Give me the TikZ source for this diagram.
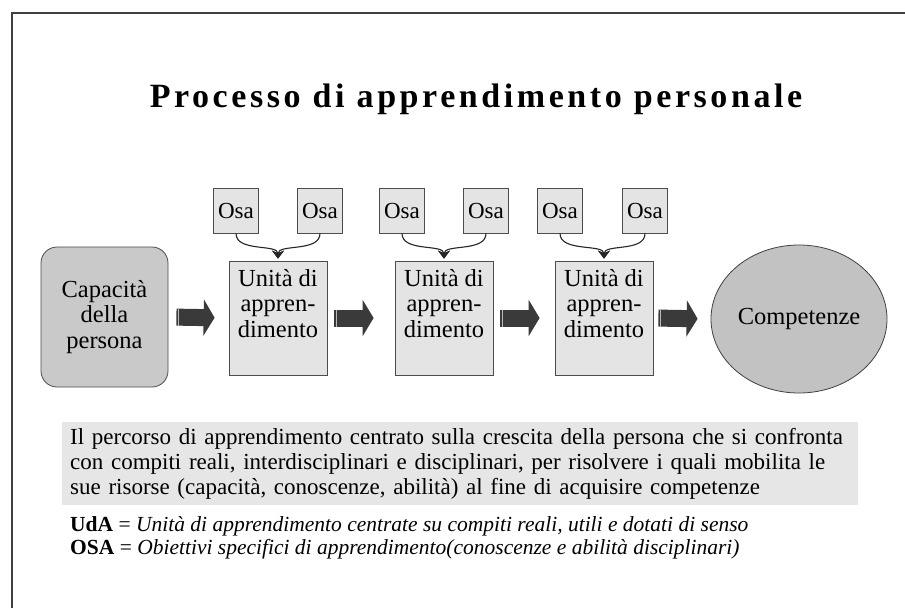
\documentclass[tikz,border=0pt]{standalone}
\usepackage{fontspec}
\setmainfont{Liberation Serif}
\usetikzlibrary{arrows.meta,calc,shapes.geometric}
\definecolor{boxgray}{HTML}{E4E4E4}
\definecolor{capgray}{HTML}{C9C9C9}
\definecolor{compgray}{HTML}{C2C2C2}
\definecolor{descgray}{HTML}{E6E6E6}
\definecolor{arrgray}{HTML}{3A3A3A}
\tikzset{
  osabox/.style={draw=black!70, fill=boxgray, line width=0.8pt, minimum width=45pt, minimum height=45pt, inner sep=0pt, font=\fontsize{23}{25}\selectfont},
  udabox/.style={draw=black!70, fill=boxgray, line width=0.8pt, minimum width=98pt, minimum height=114pt, inner sep=0pt, align=center, font=\fontsize{24.5}{25.5}\selectfont},
  capbox/.style={draw=black!70, fill=capgray, line width=0.8pt, rounded corners=16pt, minimum width=127pt, minimum height=140pt, inner sep=0pt, align=center, font=\fontsize{24.5}{25.5}\selectfont},
  compnode/.style={ellipse, draw=black!75, fill=compgray, line width=0.8pt, minimum width=176pt, minimum height=148pt, inner sep=0pt, font=\fontsize{24.5}{25}\selectfont},
  conn/.style={draw=black!85, line width=1.1pt, -{Stealth[length=8pt,width=12pt]}},
  barrow/.style={draw=arrgray, line width=17pt, -{Triangle[length=11pt,width=36pt]}},
  stripe/.style={draw=gray!55, line width=0.9pt},
}
\newcommand\blockarr[4]{%
  \draw[barrow, shorten <=#3pt, shorten >=#4pt] (#1.east) -- (#2.west);
  \draw[stripe] ($(#1.east)+(#3+2.5,-8.5)$) -- ($(#1.east)+(#3+2.5,8.5)$);
}
\begin{document}
\begin{tikzpicture}[x=1pt,y=-1pt]
\useasboundingbox (0,0) rectangle (905,608);
\fill[white] (0,0) rectangle (905,608);
% frame
\draw[line width=1.6pt, draw=black!75] (12,608) -- (12,13) -- (905,13);
% title
\node[anchor=base, font=\fontsize{34}{38}\selectfont\bfseries\addfontfeatures{LetterSpace=10.5}] (title) at (476,107) {Processo di apprendimento personale};
% main nodes
\node[capbox] (cap) at (104.5,317) {Capacità\\della\\persona};
\node[udabox] (u1) at (278,318) {Unità di\\appren-\\dimento\\[4pt]};
\node[udabox] (u2) at (444,318) {Unità di\\appren-\\dimento\\[4pt]};
\node[udabox] (u3) at (604,318) {Unità di\\appren-\\dimento\\[4pt]};
\node[compnode] (comp) at (799,319) {Competenze};
% Osa boxes
\node[osabox] (o1) at (236,210.5) {Osa};
\node[osabox] (o2) at (320,210.5) {Osa};
\node[osabox] (o3) at (402,210.5) {Osa};
\node[osabox] (o4) at (486,210.5) {Osa};
\node[osabox] (o5) at (560,210.5) {Osa};
\node[osabox] (o6) at (645,210.5) {Osa};
% meeting points
\coordinate (h1) at ($(u1.north)+(0,-2)$);
\coordinate (h2) at ($(u2.north)+(0,-2)$);
\coordinate (h3) at ($(u3.north)+(0,-2)$);
\draw[conn] (o1.south) .. controls +(0,19) and +(0,-15) .. (h1);
\draw[conn] (o2.south) .. controls +(0,19) and +(0,-15) .. (h1);
\draw[conn] (o3.south) .. controls +(0,19) and +(0,-15) .. (h2);
\draw[conn] (o4.south) .. controls +(0,19) and +(0,-15) .. (h2);
\draw[conn] (o5.south) .. controls +(0,19) and +(0,-15) .. (h3);
\draw[conn] (o6.south) .. controls +(0,19) and +(0,-15) .. (h3);
% block arrows
\blockarr{cap}{u1}{8}{14}
\blockarr{u1}{u2}{7}{21}
\blockarr{u2}{u3}{7}{15}
\blockarr{u3}{comp}{5}{13}
% description box
\node[fill=descgray, anchor=north west, minimum width=790pt, minimum height=83pt, inner xsep=8pt, inner ysep=0pt, text width=780pt, align=left, font=\fontsize{23}{25}\selectfont] (desc) at (62,422) {Il percorso di apprendimento centrato sulla crescita della persona che si confronta\\con compiti reali, interdisciplinari e disciplinari, per risolvere i quali mobilita le\\sue risorse (capacità, conoscenze, abilità) al fine di acquisire competenze};
% legend
\node[anchor=base west, inner sep=0pt, font=\fontsize{21.5}{24}\selectfont] (leg1) at (70,531) {\textbf{UdA} = \textit{Unità di apprendimento centrate su compiti reali, utili e dotati di senso}};
\node[anchor=base west, inner sep=0pt, font=\fontsize{21.5}{24}\selectfont] (leg2) at (70,554) {\textbf{OSA} = \textit{Obiettivi specifici di apprendimento(conoscenze e abilità disciplinari)}};
\end{tikzpicture}
\end{document}
